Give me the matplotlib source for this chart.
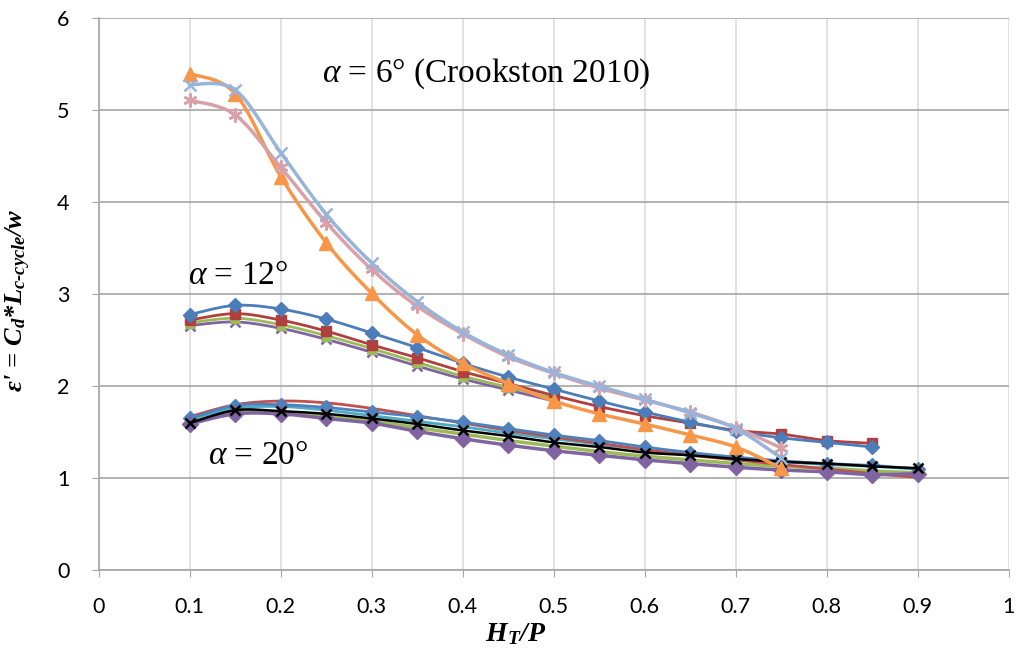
import numpy as np
import matplotlib
matplotlib.use("Agg")
import matplotlib.pyplot as plt

plt.rcParams['mathtext.fontset'] = 'custom'
plt.rcParams['mathtext.rm'] = 'Liberation Serif:bold:italic'
plt.rcParams['mathtext.it'] = 'Liberation Serif:italic'
plt.rcParams['mathtext.bf'] = 'Liberation Serif:bold:italic'

# H_T/P values
ht_p = [0.1, 0.15, 0.2, 0.25, 0.3, 0.35, 0.4, 0.45, 0.5, 0.55, 0.6, 0.65, 0.7, 0.75, 0.8, 0.85, 0.9]

# alpha = 6 deg (Crookston 2010)
a6_orange = [5.40, 5.18, 4.28, 3.56, 3.01, 2.56, 2.25, 2.03, 1.84, 1.70, 1.59, 1.47, 1.34, 1.11]
a6_lightblue = [5.28, 5.22, 4.54, 3.87, 3.34, 2.92, 2.59, 2.34, 2.15, 2.00, 1.86, 1.71, 1.54, 1.22]
a6_pink = [5.11, 4.95, 4.38, 3.78, 3.27, 2.87, 2.57, 2.32, 2.14, 1.98, 1.85, 1.72, 1.55, 1.33]

# alpha = 12 deg
a12_blue = [2.78, 2.88, 2.84, 2.73, 2.58, 2.42, 2.25, 2.10, 1.97, 1.84, 1.72, 1.61, 1.51, 1.44, 1.39, 1.34]
a12_red = [2.72, 2.79, 2.72, 2.60, 2.45, 2.31, 2.16, 2.03, 1.90, 1.78, 1.68, 1.60, 1.52, 1.48, 1.41, 1.38]
a12_green = [2.69, 2.74, 2.67, 2.55, 2.41, 2.26, 2.11, 1.99, 1.87]
a12_purple = [2.66, 2.70, 2.63, 2.51, 2.37, 2.22, 2.08, 1.96, 1.84]

# alpha = 20 deg
a20_red = [1.67, 1.80, 1.84, 1.82, 1.76, 1.68, 1.60, 1.52, 1.45, 1.38, 1.31, 1.25, 1.20, 1.15, 1.10, 1.05, 1.01]
a20_blue = [1.65, 1.79, 1.80, 1.77, 1.72, 1.67, 1.61, 1.54, 1.47, 1.41, 1.34, 1.28, 1.23, 1.19, 1.16, 1.14, 1.10]
a20_teal = [1.64, 1.76, 1.78, 1.74, 1.68, 1.62, 1.56, 1.49, 1.43, 1.37, 1.31, 1.26, 1.22, 1.18, 1.15, 1.13, 1.10]
a20_black = [1.60, 1.74, 1.73, 1.70, 1.65, 1.59, 1.52, 1.46, 1.39, 1.34, 1.28, 1.25, 1.21, 1.18, 1.16, 1.13, 1.11]
a20_green = [1.61, 1.72, 1.72, 1.67, 1.62, 1.55, 1.48, 1.41, 1.35, 1.29, 1.24, 1.20, 1.16, 1.13, 1.11, 1.08, 1.06]
a20_purple = [1.59, 1.70, 1.70, 1.65, 1.60, 1.51, 1.43, 1.36, 1.30, 1.25, 1.20, 1.16, 1.12, 1.09, 1.07, 1.04, 1.05]


def smooth(xs, ys, n=20):
    # Excel-like smoothed line (Bezier through the points)
    p = np.column_stack([xs, ys])
    if len(p) < 3:
        return p[:, 0], p[:, 1]
    ext = np.vstack([p[0], p, p[-1]])
    out = []
    t = np.linspace(0, 1, n, endpoint=False)[:, None]
    for i in range(1, len(ext) - 2):
        p0, p1, p2, p3 = ext[i - 1], ext[i], ext[i + 1], ext[i + 2]
        c1 = p1 + (p2 - p0) / 6
        c2 = p2 - (p3 - p1) / 6
        seg = (1 - t) ** 3 * p1 + 3 * (1 - t) ** 2 * t * c1 + 3 * (1 - t) * t ** 2 * c2 + t ** 3 * p2
        out.append(seg)
    out.append(p[-1][None, :])
    out = np.vstack(out)
    return out[:, 0], out[:, 1]


fig, ax = plt.subplots(figsize=(10.18, 6.54), dpi=100)
fig.subplots_adjust(left=0.097, right=0.991, top=0.972, bottom=0.128)

series = [
    (a20_green, '#9BBB59', None, 7, 2.5),
    (a20_teal, '#4BACC6', None, 7, 2.0),
    (a20_red, '#C0504D', None, 7, 2.0),
    (a20_blue, '#4F81BD', 'D', 7, 2.0),
    (a20_purple, '#8064A2', 'D', 8, 2.5),
    (a20_black, '#000000', 'x', 7, 1.8),
    (a12_purple, '#8064A2', 'x', 7, 2.0),
    (a12_green, '#9BBB59', '^', 7, 2.0),
    (a12_red, '#B0403E', 's', 7, 2.0),
    (a12_blue, '#4A7DBA', 'D', 7, 2.0),
    (a6_orange, '#F79646', '^', 10, 2.5),
    (a6_pink, '#D9A0A8', (6, 2, 0), 10, 2.5),
    (a6_lightblue, '#98B4DA', 'x', 9, 2.5),
]

for ys, color, marker, ms, lw in series:
    xs = ht_p[:len(ys)]
    sx, sy = smooth(xs, ys)
    ax.plot(sx, sy, color=color, lw=lw, solid_capstyle='round')
    if marker is not None:
        ax.plot(xs, ys, linestyle='none', marker=marker, color=color, ms=ms,
                markeredgewidth=1.8 if marker in ('x', (6, 2, 0)) else 1.0)

ax.set_xlim(0, 1)
ax.set_ylim(0, 6)
ax.set_xticks(np.arange(0, 1.01, 0.1))
ax.set_xticklabels(['0', '0.1', '0.2', '0.3', '0.4', '0.5', '0.6', '0.7', '0.8', '0.9', '1'])
ax.set_yticks(range(7))
ax.tick_params(labelsize=15.5, length=5, color='#A6A6A6')
ax.tick_params(axis='x', pad=14)
ax.tick_params(axis='y', pad=16)
for lab in ax.get_xticklabels() + ax.get_yticklabels():
    lab.set_family('Lato')

ax.grid(axis='y', color='#A6A6A6', lw=1.2)
ax.grid(axis='x', color='#DDDDDD', lw=1.2)
ax.set_axisbelow(True)
for s in ['top', 'right']:
    ax.spines[s].set_visible(False)
ax.spines['left'].set_color('#A6A6A6')
ax.spines['bottom'].set_color('#A6A6A6')
ax.spines['left'].set_linewidth(1.2)
ax.spines['bottom'].set_linewidth(1.2)

tfont = dict(family='Liberation Serif', fontsize=24, va='center')
ax.text(0.245, 5.40, r'$\alpha$ = 6° (Crookston 2010)', **tfont)
ax.text(0.098, 3.20, r'$\alpha$ = 12°', **tfont)
ax.text(0.12, 1.25, r'$\alpha$ = 20°', **tfont)

lfont = dict(family='Liberation Serif', weight='bold', style='italic')
ax.set_xlabel(r'$\mathbf{H_T/P}$', fontsize=20, **lfont)
ax.set_ylabel(r"$\mathbf{\varepsilon}$' = $\mathbf{C_d{*}L_{c\text{-}cycle}/w}$", fontsize=19, **lfont)
ax.xaxis.set_label_coords(0.458, -0.093)
ax.yaxis.set_label_coords(-0.072, 0.49)

fig.savefig('out.png', dpi=100)
